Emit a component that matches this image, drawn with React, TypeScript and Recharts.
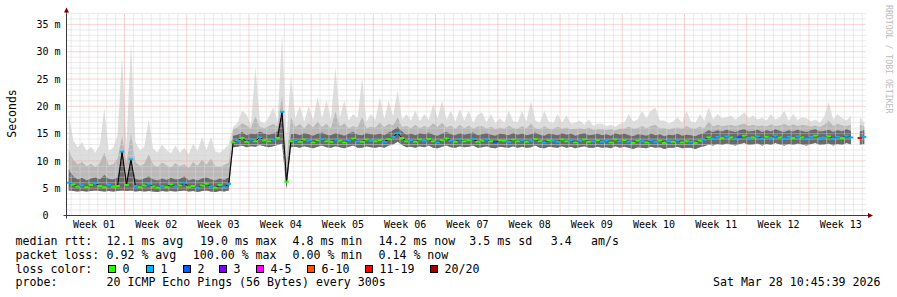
import React from 'react';
import { ComposedChart, Area, Line, XAxis, YAxis, ReferenceLine, ReferenceDot } from 'recharts';

const WEEK_LABELS = ['Week 01', 'Week 02', 'Week 03', 'Week 04', 'Week 05', 'Week 06', 'Week 07', 'Week 08', 'Week 09', 'Week 10', 'Week 11', 'Week 12', 'Week 13'];
const Y_TICKS = [0, 5, 10, 15, 20, 25, 30, 35];
const LOSS_LABELS = ['0', '1', '2', '3', '4-5', '6-10', '11-19', '20/20'];
const LOSS_COLORS = ['#26ff00', '#00b8ff', '#0059ff', '#7e00ff', '#ff00ff', '#ff5500', '#ff0000', '#a10000'];

// one value per half day, 13 weeks (milliseconds)
const MEDIAN = [
  6.0, 5.7, 5.3, 5.5, 5.2, 5.6, 5.9, 5.4, 5.2, 5.6,
  5.3, 5.4, 11.7, 5.6, 10.3, 5.4, 5.2, 5.5, 5.8, 5.3,
  5.1, 5.4, 5.2, 5.7, 5.3, 5.5, 6.0, 5.2, 5.4, 5.1,
  5.5, 5.8, 5.3, 5.1, 5.6, 5.2, 5.8, 13.4, 13.7, 14.2,
  13.5, 13.9, 13.6, 14.3, 13.8, 13.6, 13.9, 14.2, 19.0, 6.2,
  13.6, 13.8, 13.5, 13.9, 13.7, 13.4, 13.8, 14.0, 13.6, 13.5,
  13.9, 13.7, 13.4, 13.8, 14.1, 13.6, 13.5, 13.9, 13.7, 13.6,
  13.8, 13.5, 14.0, 14.4, 15.1, 14.2, 13.6, 13.8, 13.5, 13.9,
  13.7, 14.0, 13.6, 13.4, 13.8, 14.1, 13.7, 13.5, 13.9, 13.6,
  13.8, 14.0, 13.5, 13.7, 13.9, 13.6, 13.4, 13.8, 13.7, 13.5,
  13.9, 13.6, 13.8, 13.5, 13.7, 14.0, 13.6, 13.4, 13.8, 13.7,
  13.5, 13.9, 13.6, 13.8, 13.4, 13.7, 13.9, 13.5, 13.6, 13.8,
  13.5, 13.7, 13.4, 13.9, 13.6, 13.8, 13.5, 13.3, 13.7, 13.6,
  13.4, 13.8, 13.5, 13.7, 13.3, 13.6, 13.5, 13.8, 13.4, 13.6,
  13.5, 13.3, 13.7, 13.9, 14.3, 14.1, 14.4, 14.2, 14.5, 14.3,
  14.1, 14.4, 14.6, 14.2, 14.3, 14.5, 14.1, 14.4, 14.2, 14.6,
  14.3, 14.1, 14.4, 14.2, 14.5, 14.3, 14.1, 14.4, 14.6, 14.2,
  14.3, 14.5, 14.1, 14.4, 14.2, 14.6, 14.3, null, 14.2, 14.4,
];

// index into LOSS_COLORS
const LOSS = [
  1, 0, 0, 1, 0, 0, 1, 0, 0, 1,
  0, 0, 1, 0, 1, 1, 0, 0, 1, 0,
  0, 1, 0, 0, 1, 0, 1, 0, 0, 1,
  0, 0, 1, 0, 0, 1, 1, 0, 1, 0,
  0, 1, 0, 1, 0, 0, 1, 0, 1, 0,
  0, 1, 0, 0, 1, 0, 0, 1, 0, 0,
  1, 0, 0, 1, 0, 1, 0, 0, 1, 0,
  0, 1, 0, 1, 1, 0, 0, 1, 0, 0,
  1, 0, 0, 1, 0, 0, 1, 0, 1, 0,
  0, 1, 0, 0, 1, 0, 2, 0, 0, 1,
  0, 0, 1, 0, 1, 0, 0, 1, 0, 1,
  1, 0, 0, 1, 0, 1, 0, 0, 1, 0,
  1, 1, 0, 0, 1, 0, 1, 0, 0, 1,
  0, 1, 1, 0, 0, 1, 0, 1, 0, 0,
  1, 0, 0, 1, 0, 1, 1, 0, 1, 0,
  1, 2, 0, 1, 0, 1, 1, 0, 1, 1,
  0, 1, 1, 0, 1, 0, 1, 1, 0, 1,
  1, 0, 1, 1, 0, 1, 1, 0, 6, 1,
];

const SMOKE_MIN = [
  4.6, 4.5, 4.4, 4.5, 4.4, 4.5, 4.6, 4.5, 4.4, 4.5,
  4.4, 4.5, 4.6, 4.5, 4.6, 4.4, 4.5, 4.4, 4.5, 4.4,
  4.3, 4.5, 4.4, 4.5, 4.4, 4.5, 4.6, 4.4, 4.5, 4.3,
  4.5, 4.6, 4.4, 4.3, 4.5, 4.4, 4.6, 12.5, 12.6, 12.8,
  12.5, 12.7, 12.6, 12.9, 12.7, 12.5, 12.7, 12.9, 13.2, 4.8,
  12.5, 12.6, 12.4, 12.7, 12.5, 12.3, 12.6, 12.8, 12.5, 12.4,
  12.7, 12.5, 12.3, 12.6, 12.8, 12.4, 12.4, 12.7, 12.5, 12.4,
  12.6, 12.4, 12.8, 13.0, 13.5, 12.9, 12.5, 12.6, 12.4, 12.7,
  12.5, 12.8, 12.4, 12.3, 12.6, 12.8, 12.5, 12.4, 12.7, 12.5,
  12.6, 12.8, 12.4, 12.5, 12.7, 12.4, 12.3, 12.6, 12.5, 12.4,
  12.7, 12.4, 12.6, 12.4, 12.5, 12.8, 12.4, 12.3, 12.6, 12.5,
  12.4, 12.7, 12.4, 12.6, 12.3, 12.5, 12.7, 12.4, 12.4, 12.6,
  12.4, 12.5, 12.3, 12.7, 12.4, 12.6, 12.4, 12.2, 12.5, 12.4,
  12.3, 12.6, 12.4, 12.5, 12.2, 12.4, 12.4, 12.6, 12.3, 12.4,
  12.4, 12.2, 12.5, 12.7, 13.0, 12.8, 13.1, 12.9, 13.2, 13.0,
  12.8, 13.1, 13.3, 12.9, 13.0, 13.2, 12.8, 13.1, 12.9, 13.3,
  13.0, 12.8, 13.1, 12.9, 13.2, 13.0, 12.8, 13.1, 13.3, 12.9,
  13.0, 13.2, 12.8, 13.1, 12.9, 13.3, 13.0, null, 12.9, 13.1,
];

const SMOKE_DARK = [
  8.5, 7.2, 6.6, 6.9, 6.4, 6.8, 7.0, 6.6, 7.4, 6.7,
  6.6, 7.0, 11.9, 6.8, 10.4, 6.7, 6.5, 6.8, 7.2, 6.6,
  6.4, 6.8, 6.5, 6.9, 6.6, 6.7, 7.2, 6.4, 6.7, 6.4,
  6.8, 7.0, 6.6, 6.4, 6.8, 6.5, 7.0, 14.6, 14.8, 15.3,
  14.7, 15.0, 14.9, 15.4, 15.0, 14.8, 15.0, 15.4, 19.2, 7.4,
  14.9, 15.0, 14.7, 15.1, 14.9, 14.6, 15.0, 15.2, 14.8, 14.7,
  15.1, 14.9, 14.6, 15.0, 15.3, 14.8, 14.7, 15.1, 14.9, 14.8,
  15.0, 14.7, 15.2, 15.6, 16.2, 15.4, 14.8, 15.0, 14.7, 15.1,
  14.9, 15.2, 14.8, 14.6, 15.0, 15.3, 14.9, 14.7, 15.1, 14.8,
  15.0, 15.2, 14.7, 14.9, 15.1, 14.8, 14.6, 15.0, 14.9, 14.7,
  15.1, 14.8, 15.0, 14.7, 14.9, 15.2, 14.8, 14.6, 15.0, 14.9,
  14.7, 15.1, 14.8, 15.0, 14.6, 14.9, 15.1, 14.7, 14.8, 15.0,
  14.7, 14.9, 14.6, 15.1, 14.8, 15.0, 14.7, 14.5, 14.9, 14.8,
  14.6, 15.0, 14.7, 14.9, 14.5, 14.8, 14.7, 15.0, 14.6, 14.8,
  14.7, 14.5, 14.9, 15.1, 15.6, 15.3, 15.6, 15.4, 15.7, 15.5,
  15.3, 15.6, 15.8, 15.4, 15.5, 15.7, 15.3, 15.6, 15.4, 15.8,
  15.5, 15.3, 15.6, 15.4, 15.7, 15.5, 15.3, 15.6, 15.8, 15.4,
  15.5, 15.7, 15.3, 15.6, 15.4, 15.8, 15.5, null, 15.4, 15.6,
];

const SMOKE_MID = [
  12.0, 10.2, 9.4, 9.8, 9.0, 9.5, 8.9, 9.6, 11.5, 9.2,
  9.4, 10.4, 14.5, 9.6, 15.0, 9.8, 9.1, 9.5, 11.2, 9.3,
  8.9, 9.7, 9.2, 8.8, 9.6, 9.0, 9.4, 8.7, 9.8, 9.1,
  10.2, 9.3, 10.4, 9.0, 8.9, 9.3, 9.6, 15.8, 16.1, 16.9,
  16.5, 15.9, 18.2, 16.2, 16.0, 16.4, 16.8, 16.3, 22.0, 10.0,
  18.0, 16.2, 16.8, 16.0, 16.9, 16.1, 17.2, 16.2, 16.8, 16.0,
  19.0, 16.3, 16.9, 16.0, 16.4, 16.1, 18.0, 16.0, 16.3, 16.1,
  17.0, 16.2, 16.8, 16.5, 18.0, 16.2, 16.4, 16.0, 16.6, 16.0,
  16.4, 16.1, 16.9, 16.2, 17.0, 16.1, 16.5, 15.9, 16.6, 16.0,
  16.5, 15.9, 16.3, 16.4, 15.9, 16.3, 15.8, 16.1, 15.9, 16.5,
  16.0, 15.9, 16.4, 16.0, 16.8, 16.0, 15.8, 16.4, 15.9, 15.8,
  16.3, 15.9, 16.1, 15.8, 15.9, 16.0, 15.8, 16.1, 15.7, 15.8,
  15.8, 15.7, 15.8, 15.6, 15.9, 15.9, 16.3, 15.9, 16.0, 16.4,
  16.0, 16.4, 16.6, 16.0, 16.0, 15.8, 16.0, 16.1, 15.9, 16.4,
  16.0, 15.9, 16.3, 16.0, 17.2, 16.3, 16.6, 16.4, 16.5, 16.6,
  16.4, 16.6, 16.8, 16.4, 16.6, 16.4, 16.5, 16.3, 16.7, 16.4,
  16.5, 16.8, 16.4, 16.7, 16.4, 16.6, 16.5, 16.3, 16.5, 16.2,
  16.6, 17.4, 16.4, 16.8, 16.5, 16.4, 16.6, null, 16.6, 16.3,
];

const SMOKE_MAX = [
  18.6, 13.8, 12.5, 13.4, 11.8, 12.6, 11.5, 12.9, 19.6, 11.8,
  12.4, 14.8, 29.2, 12.9, 31.7, 13.5, 11.9, 12.6, 17.6, 12.2,
  11.6, 13.0, 12.0, 11.4, 12.8, 11.5, 12.4, 11.2, 13.2, 11.8,
  14.4, 12.0, 14.4, 11.7, 11.5, 12.2, 13.0, 16.2, 17.0, 19.2,
  18.5, 16.6, 27.2, 17.4, 16.8, 18.0, 19.8, 17.2, 33.1, 14.5,
  25.7, 17.8, 20.0, 17.2, 20.0, 17.5, 21.7, 17.8, 21.1, 17.6,
  27.1, 17.9, 21.1, 17.4, 18.6, 17.8, 25.3, 17.2, 18.6, 17.5,
  21.7, 17.7, 21.0, 18.2, 23.0, 17.6, 18.6, 17.4, 19.2, 17.3,
  18.6, 17.5, 20.4, 17.8, 21.1, 17.6, 19.2, 17.2, 19.5, 17.4,
  19.2, 17.0, 18.4, 18.9, 17.1, 18.6, 16.9, 17.8, 17.0, 19.2,
  17.3, 17.1, 19.2, 17.2, 21.0, 17.4, 17.0, 19.2, 17.2, 16.9,
  18.6, 17.0, 18.3, 16.8, 17.0, 17.4, 16.6, 17.6, 16.5, 16.8,
  16.8, 16.4, 16.6, 16.3, 16.8, 17.0, 18.6, 17.2, 17.6, 19.2,
  17.8, 19.2, 19.8, 17.4, 17.4, 16.8, 17.2, 18.0, 17.0, 19.2,
  17.2, 17.0, 18.6, 17.4, 19.8, 17.6, 18.6, 17.8, 18.0, 18.3,
  17.6, 18.2, 18.9, 17.8, 18.3, 17.6, 17.9, 17.4, 18.6, 17.6,
  18.0, 19.2, 17.4, 18.6, 17.5, 18.0, 17.8, 17.2, 17.6, 17.0,
  18.2, 20.8, 17.6, 18.6, 17.8, 17.4, 18.3, null, 18.0, 17.0,
];

const STATS_RTT = [
  { text: 'median rtt:', x: 15.5 },
  { text: '12.1 ms avg', x: 106.5 },
  { text: '19.0 ms max', x: 200 },
  { text: '4.8 ms min', x: 292.5 },
  { text: '14.2 ms now', x: 378.5 },
  { text: '3.5 ms sd', x: 469.3 },
  { text: '3.4', x: 550.7 },
  { text: 'am/s', x: 591 },
];
const STATS_LOSS = [
  { text: 'packet loss:', x: 15.5 },
  { text: '0.92 % avg', x: 106.5 },
  { text: '100.00 % max', x: 192.8 },
  { text: '0.00 % min', x: 292.5 },
  { text: '0.14 % now', x: 378.5 },
];
const LEGEND_BOX_X = [108, 146, 183, 219, 256, 307, 365, 430];
const PROBE_TEXT = '20 ICMP Echo Pings (56 Bytes) every 300s';
const DATE_TEXT = 'Sat Mar 28 10:45:39 2026';

const FONT = "'DejaVu Sans Mono', monospace";
const AXIS_COLOR = '#3a3a3a';
const ARROW_COLOR = '#7f0000';
const MINOR_GRID = '#d6d6d6';
const MAJOR_GRID = '#efa9a9';

// half-day units on x
const rows = MEDIAN.map((m, i) => ({
  x: i + 0.5,
  med: m,
  loss: LOSS[i],
  lo: SMOKE_MIN[i],
  dk: SMOKE_DARK[i],
  md: SMOKE_MID[i],
  mx: SMOKE_MAX[i],
}));

const DAY_LINES = Array.from({ length: 90 }, (_, k) => 1.05 + 2 * k).filter((_, k) => k % 7 !== 6);
const WEEK_LINES = Array.from({ length: 12 }, (_, k) => 13.05 + 14 * k);
const WEEK_TICKS = WEEK_LABELS.map((_, k) => 6.2 + 14 * k);
const MINOR_Y = Array.from({ length: 37 }, (_, k) => k + 1).filter((v) => v % 5 !== 0);
const MAJOR_Y = [5, 10, 15, 20, 25, 30, 35];

const YTick = (props: any) => {
  const { x, y, payload } = props;
  const v = payload.value;
  const label = v === 0 ? '0\u00a0\u00a0' : `${v} m`;
  return (
    <text x={x} y={y + 3.6} textAnchor="end" fontFamily={FONT} fontSize={10} fill="#000">
      {label}
    </text>
  );
};

const XTick = (props: any) => {
  const { x, y, index } = props;
  return (
    <text x={x} y={y + 12.8} textAnchor="middle" fontFamily={FONT} fontSize={10} fill="#000">
      {WEEK_LABELS[index]}
    </text>
  );
};

const MedDot = (props: any) => {
  const { cx, cy, payload, index } = props;
  if (cx == null || cy == null || payload == null || payload.med == null) return <g key={`md${index}`} />;
  return (
    <rect key={`md${index}`} x={cx - 2.3} y={cy - 1} width={4.6} height={2} fill={LOSS_COLORS[payload.loss]} />
  );
};

const ArrowUp = (p: any) => (
  <g>
    <line x1={p.cx} y1={p.cy} x2={p.cx} y2={p.cy - 2} stroke={AXIS_COLOR} />
    <polygon points={`${p.cx - 2.5},${p.cy - 1} ${p.cx + 2.5},${p.cy - 1} ${p.cx},${p.cy - 6}`} fill={ARROW_COLOR} />
  </g>
);
const ArrowRight = (p: any) => (
  <g>
    <line x1={p.cx} y1={p.cy} x2={p.cx + 2} y2={p.cy} stroke={AXIS_COLOR} />
    <polygon points={`${p.cx + 1.5},${p.cy - 2.5} ${p.cx + 1.5},${p.cy + 2.5} ${p.cx + 6.5},${p.cy}`} fill={ARROW_COLOR} />
  </g>
);
const Corner = (p: any) => (
  <g>
    <line x1={p.cx - 3} y1={p.cy} x2={p.cx} y2={p.cy} stroke={AXIS_COLOR} />
    <line x1={p.cx} y1={p.cy} x2={p.cx} y2={p.cy + 3} stroke={AXIS_COLOR} />
  </g>
);

export default function App() {
  const lineY = (k: number) => 245.3 + 13.67 * k;
  return (
    <div style={{ position: 'absolute', left: 0, top: 0, width: 897, height: 297, background: '#fff' }}>
      <ComposedChart width={897} height={297} data={rows} margin={{ top: 13.5, right: 30.5, bottom: 0, left: 0 }}>
        <XAxis
          type="number"
          dataKey="x"
          domain={[0, 180]}
          allowDataOverflow
          ticks={WEEK_TICKS}
          interval={0}
          height={81.5}
          tickSize={0}
          tickMargin={0}
          tick={<XTick />}
          axisLine={{ stroke: AXIS_COLOR }}
        />
        <YAxis
          type="number"
          domain={[0, 37]}
          allowDataOverflow
          ticks={Y_TICKS}
          interval={0}
          width={66.5}
          tickSize={0}
          tickMargin={6}
          tick={<YTick />}
          axisLine={{ stroke: AXIS_COLOR }}
        />
        {MINOR_Y.map((v) => (
          <ReferenceLine key={`hy${v}`} y={v} stroke={MINOR_GRID} strokeDasharray="1 1" />
        ))}
        {DAY_LINES.map((v) => (
          <ReferenceLine key={`vx${v}`} x={v} stroke={MINOR_GRID} strokeDasharray="1 1" />
        ))}
        {MAJOR_Y.map((v) => (
          <ReferenceLine key={`HY${v}`} y={v} stroke={MAJOR_GRID} strokeDasharray="1 1" />
        ))}
        {WEEK_LINES.map((v) => (
          <ReferenceLine key={`VX${v}`} x={v} stroke={MAJOR_GRID} strokeDasharray="1 1" />
        ))}
        <Area
          type="linear"
          dataKey={(d: any) => (d.mx == null ? null : [d.lo, d.mx])}
          stroke="none"
          fill="#dedede"
          fillOpacity={1}
          isAnimationActive={false}
          activeDot={false}
        />
        <Area
          type="linear"
          dataKey={(d: any) => (d.md == null ? null : [d.lo, d.md])}
          stroke="none"
          fill="#b9b9b9"
          fillOpacity={1}
          isAnimationActive={false}
          activeDot={false}
        />
        <Area
          type="linear"
          dataKey={(d: any) => (d.dk == null ? null : [d.lo, d.dk])}
          stroke="none"
          fill="#6a6a6a"
          fillOpacity={1}
          isAnimationActive={false}
          activeDot={false}
        />
        <Line
          type="linear"
          dataKey="med"
          stroke="#000"
          strokeWidth={1}
          dot={(p: any) => <MedDot {...p} key={`m${p.index}`} />}
          activeDot={false}
          isAnimationActive={false}
        />
        <ReferenceDot x={0} y={37} r={0} shape={ArrowUp} />
        <ReferenceDot x={180} y={0} r={0} shape={ArrowRight} />
        <ReferenceDot x={0} y={0} r={0} shape={Corner} />
      </ComposedChart>
      <svg
        width={897}
        height={297}
        style={{ position: 'absolute', left: 0, top: 0, pointerEvents: 'none' }}
        fontFamily={FONT}
      >
        <text x={15.5} y={113.5} transform="rotate(-90 15.5 113.5)" textAnchor="middle" fontSize={11.5} fill="#000">
          Seconds
        </text>
        <text x={885.5} y={5} transform="rotate(90 885.5 5)" fontSize={8.2} fill="#bdbdbd">
          RRDTOOL / TOBI OETIKER
        </text>
        {STATS_RTT.map((s) => (
          <text key={s.text} x={s.x} y={lineY(0)} fontSize={11.6} fill="#000" style={{ whiteSpace: 'pre' }}>
            {s.text}
          </text>
        ))}
        {STATS_LOSS.map((s) => (
          <text key={s.text} x={s.x} y={lineY(1)} fontSize={11.6} fill="#000" style={{ whiteSpace: 'pre' }}>
            {s.text}
          </text>
        ))}
        <text x={15.5} y={lineY(2)} fontSize={11.6} fill="#000">loss color:</text>
        {LOSS_LABELS.map((lab, k) => (
          <g key={lab}>
            <rect x={LEGEND_BOX_X[k] + 0.5} y={265.5} width={7} height={7} fill={LOSS_COLORS[k]} stroke="#000" strokeWidth={1} />
            <text x={LEGEND_BOX_X[k] + 14.5} y={lineY(2)} fontSize={11.6} fill="#000">
              {lab}
            </text>
          </g>
        ))}
        <text x={15.5} y={lineY(3)} fontSize={11.6} fill="#000">probe:</text>
        <text x={106.5} y={lineY(3)} fontSize={11.6} fill="#000">{PROBE_TEXT}</text>
        <text x={880.5} y={lineY(3)} textAnchor="end" fontSize={11.6} fill="#000">{DATE_TEXT}</text>
      </svg>
    </div>
  );
}
